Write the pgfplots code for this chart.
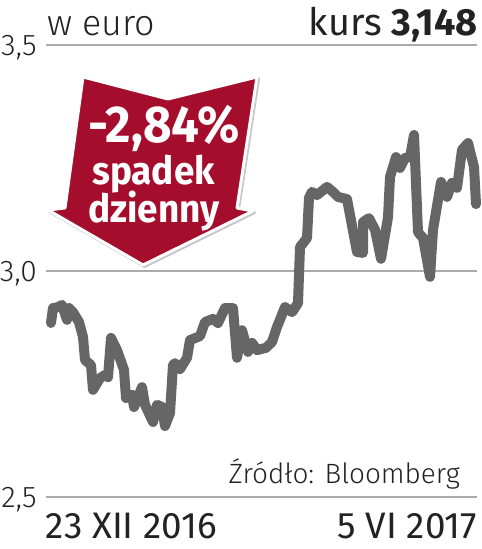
\documentclass[border=0pt]{standalone}
\usepackage{pgfplots}
\pgfplotsset{compat=1.18}
\usepackage{fontspec}
\setmainfont{Fira Sans}
\newfontfamily\lt{Fira Sans Light}
\newfontfamily\md{Fira Sans}
\newfontfamily\arr{Fira Sans}[FakeStretch=0.95]
\definecolor{ln}{HTML}{666666}
\definecolor{gr}{HTML}{ABABAB}
\definecolor{rd}{HTML}{A50D2D}
\definecolor{tx}{HTML}{222222}
\begin{document}
\begin{tikzpicture}[x=1bp,y=1bp]
\useasboundingbox (-46,-52) rectangle (436,497);
\begin{axis}[
  at={(0,0)},anchor=origin,
  scale only axis,width=431bp,height=452bp,
  xmin=0,xmax=431,ymin=2.5,ymax=3.5,
  axis line style={draw=none},
  major tick length=0pt,
  ytick={2.5,3,3.5},yticklabels={{2,5},{3,0},{3,5}},
  ymajorgrids,grid style={gr,line width=1.3bp},
  xtick={0,431},
  xticklabels={\makebox[0pt][l]{23 XII 2016},\makebox[0pt][r]{5 VI 2017}},
  x tick label style={font=\md\fontsize{37}{37}\selectfont,text=tx,inner sep=0pt,anchor=base,yshift=-41bp},
  y tick label style={font=\lt\fontsize{30}{30}\selectfont,text=tx,inner sep=0pt,anchor=east,xshift=-9bp,yshift=-3bp},
  clip=false,
]
\addplot[ln,line width=10bp,line join=round,line cap=round] table {
5 2.885
7 2.918
12 2.920
16 2.925
21 2.892
23 2.918
27 2.909
33 2.887
37 2.854
39 2.803
45 2.792
47 2.737
54 2.763
59 2.770
62 2.765
65 2.852
71 2.825
78 2.781
80 2.719
86 2.726
88 2.699
96 2.743
99 2.704
107 2.666
111 2.704
116 2.699
119 2.657
124 2.686
127 2.792
129 2.796
134 2.783
141 2.808
144 2.847
154 2.856
159 2.887
167 2.894
172 2.885
179 2.918
187 2.918
191 2.808
196 2.869
202 2.821
206 2.841
211 2.825
220 2.830
226 2.843
231 2.876
239 2.920
246 2.909
252 2.929
254 3.053
261 3.073
263 3.162
266 3.175
271 3.168
281 3.186
287 3.175
292 3.164
301 3.159
311 3.042
317 3.040
317 3.108
323 3.117
329 3.091
335 3.027
342 3.119
344 3.208
350 3.252
354 3.228
359 3.250
364 3.252
368 3.301
372 3.086
377 3.073
384 2.987
387 3.091
395 3.197
401 3.164
406 3.195
411 3.184
416 3.268
422 3.283
428 3.230
430 3.148
};
\end{axis}
\begin{scope}[shift={(-46,497)},y=-1bp]
\def\arrowpath{(83,77) -- (168,99) -- (257,77) -- (237,208) -- (253,211) -- (143,265) -- (48,210) -- (65,208) -- cycle}
\draw[gray!45,line width=3bp,line join=round,shift={(1.5,1.5)}] \arrowpath;
\draw[white,line width=3bp,line join=round,fill=rd] \arrowpath;
\node[white,anchor=base,inner sep=0pt] at (164,143) {\arr\bfseries\fontsize{52}{52}\selectfont -2,84\%};
\node[white,anchor=base,inner sep=0pt] at (153.5,185) {\arr\bfseries\fontsize{39}{39}\selectfont spadek};
\node[white,anchor=base,inner sep=0pt] at (154,223) {\arr\bfseries\fontsize{39}{39}\selectfont dzienny};
\node[tx,anchor=base west,inner sep=0pt] at (47,36) {\lt\fontsize{36}{36}\selectfont w euro};
\node[tx,anchor=base east,inner sep=0pt] at (478,36) {\fontsize{38}{38}\selectfont kurs \textbf{3,148}};
\node[tx,anchor=base east,inner sep=0pt] at (460,484) {\lt\fontsize{28}{28}\selectfont Źródło: Bloomberg};
\end{scope}
\end{tikzpicture}
\end{document}
